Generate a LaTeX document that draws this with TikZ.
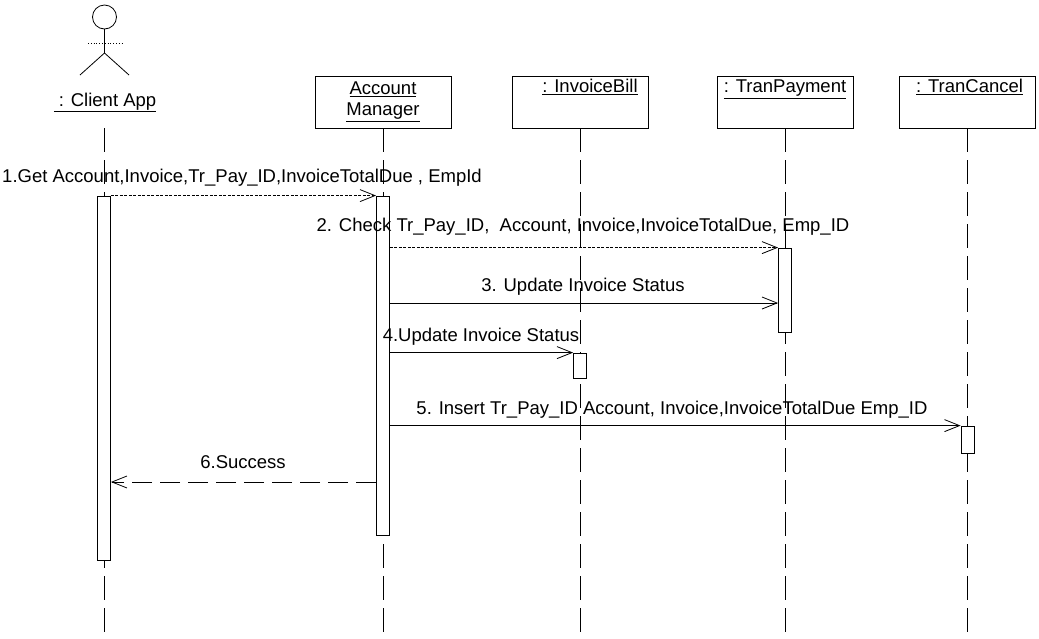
\documentclass[tikz,border=0pt]{standalone}
\usepackage{fontspec}
\setmainfont{Liberation Sans}
\usetikzlibrary{arrows.meta,calc}
\begin{document}
\begin{tikzpicture}[x=1pt,y=-1pt,
  every node/.style={font=\fontsize{18.5}{21}\selectfont, inner sep=0pt, text=black},
  ln/.style={line width=0.8pt, draw=black},
  obj/.style={draw=black, line width=0.8pt, minimum width=136pt, minimum height=52pt},
  life/.style={line width=0.8pt, draw=black, dash pattern=on 24pt off 8pt},
  actbar/.style={draw=black, fill=white, line width=0.8pt, minimum width=13pt},
  msg/.style={line width=0.8pt, draw=black, -{Straight Barb[length=15pt,width=12pt]}},
  dotmsg/.style={msg, dash pattern=on 3pt off 1.5pt},
  retmsg/.style={msg, dash pattern=on 20pt off 8pt},
  lbl/.style={anchor=base}
]
\useasboundingbox (0,0) rectangle (1039,638);

% actor
\draw[ln] (104.5,17) circle[radius=12pt];
\draw[ln, dotted] (88,43) -- (122,43);
\draw[ln] (104.5,29) -- (104.5,53) -- (80,75);
\draw[ln] (104.5,53) -- (129,75);
\node[lbl] (client) at (105,106) {\underline{\ : Client App}};
\coordinate (clTop) at (104,128);
\coordinate (clBot) at (104,638);

% objects
\node[obj, align=center] (am) at (383,102) {\underline{Account}\\\underline{Manager}};
\node[obj] (ib) at (580,102) {};
\node[obj] (tp) at (785,102) {};
\node[obj] (tc) at (967.5,102) {};
\node[lbl] (ibname) at ($(ib.north)+(10,17)$) {\underline{: InvoiceBill}};
\node[lbl] (tpname) at ($(tp.north)+(0,17)$) {\underline{: TranPayment}};
\node[lbl] (tcname) at ($(tc.north)+(2,17)$) {\underline{: TranCancel}};

% lifelines
\draw[life] (clTop) -- (clBot);
\draw[life] (am.south) -- (am.south |- clBot);
\draw[life] (ib.south) -- (ib.south |- clBot);
\draw[life] (tp.south) -- (tp.south |- clBot);
\draw[life] (tc.south) -- (tc.south |- clBot);

% activation bars
\node[actbar, minimum height=364pt] (cbar) at (104,378) {};
\node[actbar, minimum height=339pt] (ambar) at (383,365.5) {};
\node[actbar, minimum height=84pt] (tpbar) at (785,290) {};
\node[actbar, minimum height=25pt] (ibbar) at (580,365.5) {};
\node[actbar, minimum height=27pt] (tcbar) at (967.5,439.5) {};

% messages
\coordinate (m3) at (0,303);
\coordinate (m6) at (0,482);
\draw[dotmsg] (cbar.north east) -- (ambar.north west);
\draw[dotmsg] (ambar.east |- tpbar.north) -- (tpbar.north west);
\draw[msg] (ambar.east |- m3) -- (tpbar.west |- m3);
\draw[msg] (ambar.east |- ibbar.north) -- (ibbar.north west);
\draw[msg] (ambar.east |- tcbar.north) -- (tcbar.north west);
\draw[retmsg] (ambar.west |- m6) -- (cbar.east |- m6);

% labels
\node[lbl] (l1) at (242,182) {1.Get Account,Invoice,Tr\_Pay\_ID,InvoiceTotalDue , EmpId};
\node[lbl] (l2) at (583,231.5) {2. Check Tr\_Pay\_ID,\ \ Account, Invoice,InvoiceTotalDue, Emp\_ID};
\node[lbl] (l3) at (583,291) {3. Update Invoice Status};
\node[lbl] (l4) at (481,341) {4.Update Invoice Status};
\node[lbl] (l5) at (672,414) {5. Insert Tr\_Pay\_ID Account, Invoice,InvoiceTotalDue Emp\_ID};
\node[lbl] (l6) at (243,468) {6.Success};
\end{tikzpicture}
\end{document}
